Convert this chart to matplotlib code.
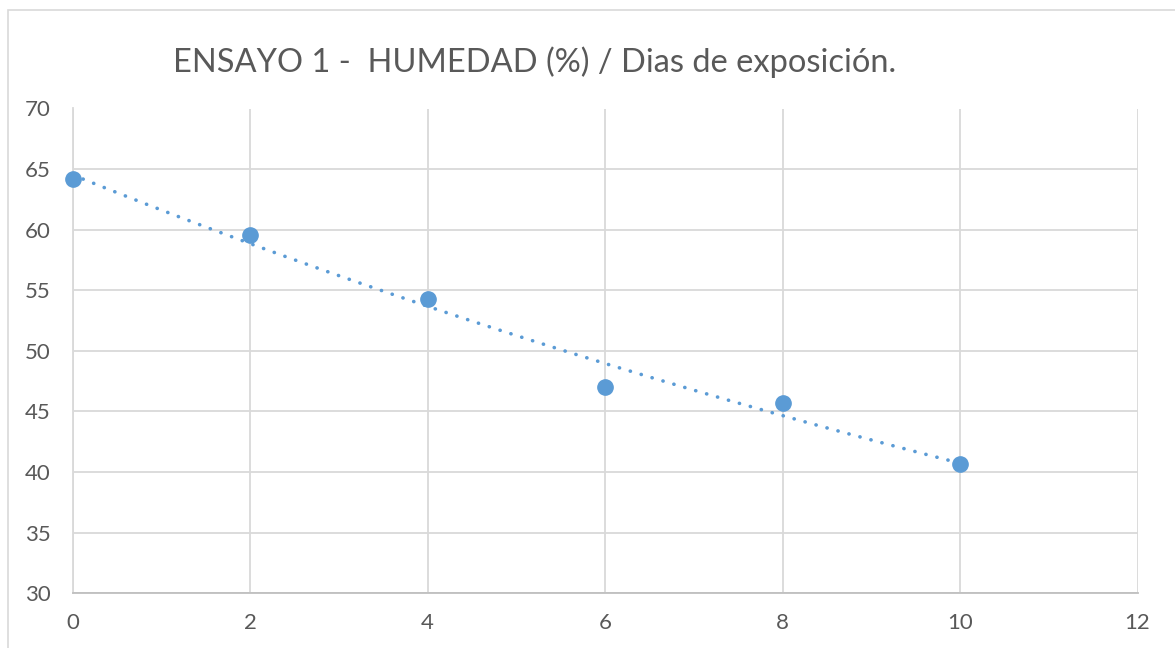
import numpy as np
import matplotlib
matplotlib.use("Agg")
import matplotlib.pyplot as plt
from matplotlib.patches import Rectangle

plt.rcParams['font.family'] = ['Lato', 'DejaVu Sans']

dias = [0, 2, 4, 6, 8, 10]
humedad = [64.2, 59.6, 54.3, 47.0, 45.7, 40.7]
xticks = [0, 2, 4, 6, 8, 10, 12]
yticks = [30, 35, 40, 45, 50, 55, 60, 65, 70]
titulo = "ENSAYO 1 -  HUMEDAD (%) / Dias de exposición."

W, H = 1175, 648
fig = plt.figure(figsize=(W/100, H/100), dpi=100)
fig.patch.set_facecolor('white')
fig.patches.append(Rectangle((8/W, -0.05), 1.2, (H-10)/H + 0.05, transform=fig.transFigure,
                             fill=False, edgecolor='#d9d9d9', linewidth=1.2))

left, right = 72.5/W, 1137.5/W
bottom, top = 1 - 593.3/H, 1 - 108.5/H
ax = fig.add_axes([left, bottom, right-left, top-bottom])
ax.set_xlim(0, 12)
ax.set_ylim(30, 70)
ax.set_xticks(xticks)
ax.set_yticks(yticks)
ax.grid(True, color='#d9d9d9', linewidth=1.3)
ax.set_axisbelow(True)
for s in ['top', 'right']:
    ax.spines[s].set_visible(False)
ax.spines['left'].set_color('#d9d9d9')
ax.spines['bottom'].set_color('#bfbfbf')
ax.spines['left'].set_linewidth(1.3)
ax.spines['bottom'].set_linewidth(1.3)
ax.tick_params(length=0, labelsize=16, colors='#595959', pad=16)
ax.tick_params(axis='x', pad=14)

# exponential trendline fitted to data
xd = np.array(dias, dtype=float)
yd = np.array(humedad, dtype=float)
b, a = np.polyfit(xd, np.log(yd), 1)
xt = np.linspace(xd.min(), xd.max(), 200)
yt = np.exp(a) * np.exp(b * xt)
ax.plot(xt, yt, color='#5B9BD5', linewidth=2.6, linestyle=(0, (0.05, 3.1)),
        dash_capstyle='round', clip_on=False)

ax.plot(dias, humedad, 'o', color='#5B9BD5', markersize=11, clip_on=False, zorder=5)

fig.text(535/W, 1 - 62/H, titulo, ha='center', va='center', fontsize=23.5, color='#595959')

fig.savefig('out.png', dpi=100)
